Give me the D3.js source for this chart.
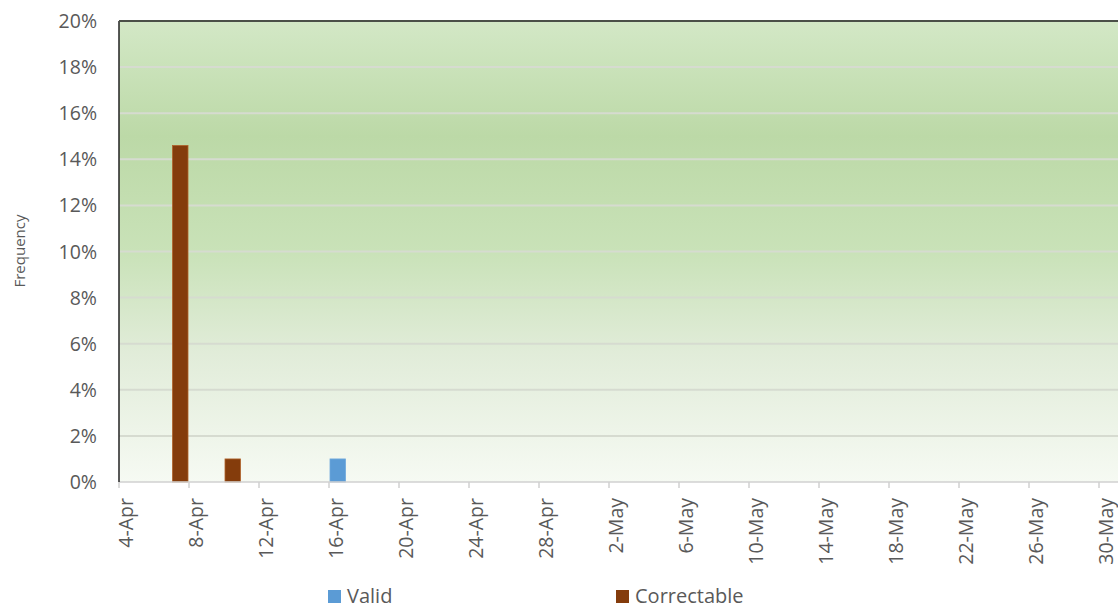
<!DOCTYPE html>
<html><head><meta charset="utf-8">
<script src="https://cdn.jsdelivr.net/npm/d3@7"></script>
<style>body{margin:0;background:#fff}svg{display:block}</style>
</head><body>
<svg id="c" width="1118" height="608"></svg>
<script>
// ---- data ----
const seriesNames = ["Valid", "Correctable"];
const validDates = ["2020-04-16"];
const validValues = [1.0];
const correctableDates = ["2020-04-07", "2020-04-10"];
const correctableValues = [14.6, 1.0];
const yTicks = [0, 2, 4, 6, 8, 10, 12, 14, 16, 18, 20];
const xTickDates = ["2020-04-04","2020-04-08","2020-04-12","2020-04-16","2020-04-20","2020-04-24","2020-04-28","2020-05-02","2020-05-06","2020-05-10","2020-05-14","2020-05-18","2020-05-22","2020-05-26","2020-05-30"];
const xTickLabels = ["4-Apr","8-Apr","12-Apr","16-Apr","20-Apr","24-Apr","28-Apr","2-May","6-May","10-May","14-May","18-May","22-May","26-May","30-May"];
const domainStart = "2020-04-04", domainEnd = "2020-06-01";

const svg = d3.select("#c");
const m = {l:119, t:21, r:1120, b:482};
const parse = d3.utcParse("%Y-%m-%d");
const x = d3.scaleUtc().domain([parse(domainStart), parse(domainEnd)]).range([m.l, m.l + 17.5*58]);
const y = d3.scaleLinear().domain([0, 20]).range([m.b, m.t]);
const day = 17.5;
const font = "'Open Sans', 'Noto Sans', sans-serif";

const defs = svg.append("defs");
const g = defs.append("linearGradient").attr("id","bg").attr("x1",0).attr("y1",0).attr("x2",0).attr("y2",1);
[[0,"#d3e8c6"],[0.25,"#bcd9a7"],[0.5,"#c9e2b8"],[0.72,"#e1ecd9"],[1,"#f6faf3"]].forEach(s=>g.append("stop").attr("offset",s[0]).attr("stop-color",s[1]));

svg.append("rect").attr("x",m.l).attr("y",m.t).attr("width",m.r-m.l).attr("height",m.b-m.t).attr("fill","url(#bg)");

// gridlines
svg.append("g").selectAll("line").data(yTicks.filter(d=>d>0 && d<20)).join("line")
  .attr("x1",m.l).attr("x2",m.r).attr("y1",d=>y(d)).attr("y2",d=>y(d))
  .attr("stroke","#d6dbd0").attr("stroke-width",2);

// bars
const bw = 15.5;
function bars(dates, vals, color, stroke){
  svg.append("g").selectAll("rect").data(dates.map((d,i)=>({d:parse(d),v:vals[i]}))).join("rect")
    .attr("x",d=>x(d.d)+day/2-bw/2).attr("width",bw)
    .attr("y",d=>y(d.v)).attr("height",d=>y(0)-y(d.v))
    .attr("fill",color).attr("stroke",stroke).attr("stroke-width",0.8);
}
bars(validDates, validValues, "#5b9bd5", "#6fa8dc");
bars(correctableDates, correctableValues, "#843c0c", "#b0622a");

// axes lines
svg.append("line").attr("x1",m.l).attr("x2",m.r).attr("y1",m.b).attr("y2",m.b).attr("stroke","#d0d0d0").attr("stroke-width",1.5);
svg.append("line").attr("x1",m.l).attr("x2",m.l).attr("y1",m.t).attr("y2",m.b).attr("stroke","#222").attr("stroke-width",1.5);
svg.append("line").attr("x1",m.l).attr("x2",m.r).attr("y1",m.t).attr("y2",m.t).attr("stroke","#4b5048").attr("stroke-width",2);

// y tick labels
svg.append("g").selectAll("text").data(yTicks).join("text")
  .attr("x",97).attr("y",d=>y(d)).attr("dy","0.36em").attr("text-anchor","end")
  .attr("font-family",font).attr("font-size",19.5).attr("fill","#595959")
  .text(d=>d+"%");

// x ticks
const xt = xTickDates.map((d,i)=>({d:parse(d), l:xTickLabels[i]}));
svg.append("g").selectAll("line").data(xt).join("line")
  .attr("x1",d=>x(d.d)).attr("x2",d=>x(d.d)).attr("y1",m.b).attr("y2",m.b+6)
  .attr("stroke","#d0d0d0").attr("stroke-width",1.5);
svg.append("g").selectAll("text").data(xt).join("text")
  .attr("transform",d=>`translate(${x(d.d)+day/2+5},${m.b+16}) rotate(-90)`)
  .attr("text-anchor","end").attr("font-family",font).attr("font-size",19.5).attr("fill","#595959")
  .text(d=>d.l);

// y title
svg.append("text").attr("transform","translate(25,251) rotate(-90)").attr("text-anchor","middle")
  .attr("font-family",font).attr("font-size",15).attr("fill","#595959").text("Frequency");

// legend
const leg = [{n:seriesNames[0],c:"#5b9bd5",x:328},{n:seriesNames[1],c:"#843c0c",x:616}];
leg.forEach(L=>{
  svg.append("rect").attr("x",L.x).attr("y",590).attr("width",13).attr("height",13).attr("fill",L.c);
  svg.append("text").attr("x",L.x+19).attr("y",603).attr("font-family",font).attr("font-size",20).attr("fill","#595959").text(L.n);
});
</script>
</body></html>
